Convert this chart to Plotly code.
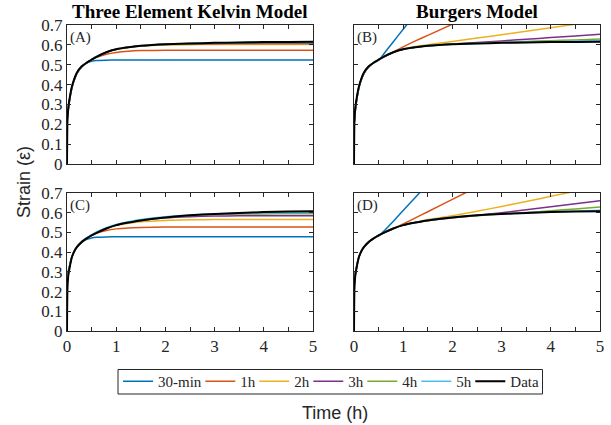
import plotly.graph_objects as go

# ---------------- data ----------------
t = [0, 0.01, 0.03, 0.06, 0.1, 0.15, 0.2, 0.3, 0.4, 0.5, 0.6, 0.8, 1.0, 1.25, 1.5, 2.0, 2.5, 3.0, 3.5, 4.0, 4.5, 5.0]

series_names = ["30-min", "1h", "2h", "3h", "4h", "5h", "Data"]
colors = ["#0072BD", "#D95319", "#EDB120", "#7E2F8E", "#77AC30", "#4DBEEE", "#000000"]

data_top = [0.0, 0.22, 0.29, 0.34, 0.39, 0.43, 0.46, 0.492, 0.51, 0.525, 0.54, 0.563, 0.578, 0.588, 0.595, 0.603, 0.607, 0.61, 0.612, 0.614, 0.615, 0.616]
data_bottom = [0.0, 0.22, 0.29, 0.33, 0.375, 0.405, 0.425, 0.452, 0.47, 0.485, 0.498, 0.52, 0.537, 0.55, 0.561, 0.576, 0.587, 0.594, 0.599, 0.603, 0.606, 0.608]

# (A) Three element Kelvin model, top row
kelvin_A = [
    [0.25, 0.26, 0.29, 0.335, 0.385, 0.425, 0.455, 0.49, 0.508, 0.517, 0.521, 0.523, 0.524, 0.524, 0.524, 0.524, 0.524, 0.524, 0.524, 0.524, 0.524, 0.524],
    [0.24, 0.25, 0.285, 0.335, 0.385, 0.425, 0.455, 0.49, 0.51, 0.525, 0.537, 0.553, 0.562, 0.568, 0.571, 0.573, 0.573, 0.573, 0.573, 0.573, 0.573, 0.573],
    [0.23, 0.245, 0.285, 0.335, 0.385, 0.425, 0.455, 0.49, 0.51, 0.525, 0.54, 0.562, 0.576, 0.587, 0.593, 0.599, 0.601, 0.602, 0.602, 0.602, 0.602, 0.602],
    [0.23, 0.24, 0.285, 0.335, 0.385, 0.425, 0.458, 0.49, 0.51, 0.525, 0.54, 0.563, 0.578, 0.588, 0.595, 0.602, 0.605, 0.606, 0.607, 0.607, 0.607, 0.607],
    [0.22, 0.235, 0.285, 0.335, 0.385, 0.428, 0.458, 0.49, 0.51, 0.525, 0.54, 0.563, 0.578, 0.588, 0.595, 0.603, 0.607, 0.609, 0.61, 0.61, 0.61, 0.61],
    [0.22, 0.235, 0.285, 0.335, 0.385, 0.428, 0.458, 0.49, 0.51, 0.525, 0.54, 0.563, 0.578, 0.588, 0.595, 0.603, 0.607, 0.61, 0.612, 0.613, 0.613, 0.613],
]

# (B) Burgers model, top row
burgers_B = [
    [0.22, 0.24, 0.28, 0.33, 0.385, 0.425, 0.455, 0.49, 0.51, 0.522, 0.553, 0.616, 0.679, 0.757],
    [0.21, 0.23, 0.28, 0.33, 0.385, 0.425, 0.455, 0.49, 0.51, 0.524, 0.538, 0.564, 0.59, 0.62, 0.648, 0.704],
    [0.2, 0.22, 0.28, 0.335, 0.385, 0.428, 0.458, 0.49, 0.51, 0.525, 0.54, 0.563, 0.578, 0.592, 0.601, 0.617, 0.634, 0.651, 0.668, 0.686, 0.704],
    [0.2, 0.22, 0.28, 0.335, 0.385, 0.428, 0.458, 0.49, 0.51, 0.525, 0.54, 0.563, 0.578, 0.588, 0.596, 0.604, 0.612, 0.62, 0.628, 0.637, 0.645, 0.654],
    [0.2, 0.22, 0.285, 0.335, 0.385, 0.428, 0.458, 0.49, 0.51, 0.525, 0.54, 0.563, 0.578, 0.588, 0.595, 0.603, 0.608, 0.613, 0.617, 0.621, 0.625, 0.629],
    [0.2, 0.22, 0.285, 0.335, 0.385, 0.428, 0.458, 0.49, 0.51, 0.525, 0.54, 0.563, 0.578, 0.588, 0.595, 0.603, 0.607, 0.611, 0.614, 0.616, 0.619, 0.622],
]

# (C) Three element Kelvin model, bottom row
kelvin_C = [
    [0.28, 0.29, 0.31, 0.34, 0.375, 0.405, 0.425, 0.45, 0.465, 0.472, 0.475, 0.477, 0.478, 0.478, 0.478, 0.478, 0.478, 0.478, 0.478, 0.478, 0.478, 0.478],
    [0.26, 0.27, 0.3, 0.335, 0.375, 0.405, 0.425, 0.452, 0.47, 0.485, 0.496, 0.51, 0.518, 0.523, 0.525, 0.527, 0.527, 0.527, 0.527, 0.527, 0.527, 0.527],
    [0.25, 0.26, 0.295, 0.335, 0.375, 0.405, 0.426, 0.453, 0.47, 0.485, 0.498, 0.52, 0.535, 0.547, 0.554, 0.561, 0.564, 0.565, 0.565, 0.565, 0.565, 0.565],
    [0.24, 0.255, 0.295, 0.335, 0.375, 0.405, 0.426, 0.453, 0.47, 0.485, 0.498, 0.52, 0.537, 0.55, 0.561, 0.574, 0.58, 0.583, 0.584, 0.585, 0.585, 0.585],
    [0.24, 0.255, 0.295, 0.335, 0.375, 0.405, 0.426, 0.453, 0.47, 0.486, 0.5, 0.522, 0.538, 0.551, 0.562, 0.577, 0.586, 0.591, 0.593, 0.594, 0.595, 0.595],
    [0.23, 0.25, 0.295, 0.335, 0.375, 0.405, 0.427, 0.455, 0.473, 0.488, 0.502, 0.524, 0.54, 0.554, 0.565, 0.58, 0.589, 0.594, 0.597, 0.599, 0.6, 0.6],
]

# (D) Burgers model, bottom row
burgers_D = [
    [0.26, 0.27, 0.3, 0.335, 0.375, 0.405, 0.425, 0.452, 0.47, 0.482, 0.505, 0.557, 0.611, 0.679, 0.746],
    [0.24, 0.26, 0.295, 0.335, 0.375, 0.405, 0.425, 0.452, 0.47, 0.485, 0.498, 0.52, 0.543, 0.574, 0.605, 0.668, 0.73],
    [0.23, 0.25, 0.295, 0.335, 0.375, 0.405, 0.425, 0.452, 0.47, 0.485, 0.498, 0.52, 0.537, 0.551, 0.565, 0.585, 0.607, 0.632, 0.657, 0.683, 0.709],
    [0.22, 0.245, 0.29, 0.333, 0.375, 0.405, 0.425, 0.452, 0.47, 0.485, 0.498, 0.52, 0.537, 0.55, 0.561, 0.574, 0.586, 0.6, 0.615, 0.63, 0.646, 0.661],
    [0.22, 0.24, 0.29, 0.333, 0.375, 0.405, 0.425, 0.452, 0.47, 0.485, 0.498, 0.52, 0.537, 0.55, 0.561, 0.576, 0.585, 0.593, 0.601, 0.61, 0.619, 0.629],
    [0.22, 0.24, 0.29, 0.333, 0.375, 0.405, 0.425, 0.452, 0.47, 0.485, 0.498, 0.52, 0.537, 0.55, 0.562, 0.577, 0.587, 0.594, 0.6, 0.604, 0.608, 0.612],
]

titles = ["Three Element Kelvin Model", "Burgers Model"]
panel_labels = ["(A)", "(B)", "(C)", "(D)"]
x_ticks = [0, 0.5, 1, 1.5, 2, 2.5, 3, 3.5, 4, 4.5, 5]
x_tick_text = ["0", "", "1", "", "2", "", "3", "", "4", "", "5"]
y_ticks = [0, 0.1, 0.2, 0.3, 0.4, 0.5, 0.6, 0.7]
y_tick_text = ["0", "0.1", "0.2", "0.3", "0.4", "0.5", "0.6", "0.7"]

# ---------------- figure ----------------
W, H = 611, 425
SERIF = "Liberation Serif, Times New Roman, serif"
SANS = "Liberation Sans, Arial, sans-serif"
INK = "#262626"

fig = go.Figure()

legend_ids = ["legend", "legend2", "legend3", "legend4", "legend5", "legend6", "legend7"]

panels = [
    (kelvin_A, data_top, "x", "y"),
    (burgers_B, data_top, "x2", "y2"),
    (kelvin_C, data_bottom, "x3", "y3"),
    (burgers_D, data_bottom, "x4", "y4"),
]

for p, (fits, data, xa, ya) in enumerate(panels):
    for i, vals in enumerate(fits):
        fig.add_trace(go.Scatter(
            x=t[:len(vals)], y=vals, mode="lines", name=series_names[i],
            line=dict(color=colors[i], width=1.5, shape="spline", smoothing=0.6),
            xaxis=xa, yaxis=ya, showlegend=(p == 0), legend=legend_ids[i],
        ))
    fig.add_trace(go.Scatter(
        x=t, y=data, mode="lines", name=series_names[6],
        line=dict(color=colors[6], width=2, shape="spline", smoothing=0.6),
        xaxis=xa, yaxis=ya, showlegend=(p == 0), legend=legend_ids[6],
    ))

xdom = [[67 / W, 313 / W], [354 / W, 600 / W]]
ydom = [[1 - 164 / H, 1 - 25 / H], [1 - 331 / H, 1 - 193 / H]]

axis_common = dict(showline=True, linecolor=INK, linewidth=1, mirror="ticks",
                   ticks="inside", ticklen=4, tickwidth=1, tickcolor=INK,
                   showgrid=False, zeroline=False, automargin=False,
                   tickfont=dict(family=SERIF, size=17, color=INK))

layout = dict(width=W, height=H, margin=dict(l=0, r=0, t=0, b=0, autoexpand=False),
              paper_bgcolor="white", plot_bgcolor="white", showlegend=True)

for k in range(4):
    row, col = divmod(k, 2)
    sx = "" if k == 0 else str(k + 1)
    layout["xaxis" + sx] = dict(axis_common, domain=xdom[col], range=[0, 5],
                                anchor="y" + sx, tickvals=x_ticks,
                                ticktext=x_tick_text, showticklabels=(row == 1))
    layout["yaxis" + sx] = dict(axis_common, domain=ydom[row], range=[0, 0.7],
                                anchor="x" + sx, tickvals=y_ticks,
                                ticktext=y_tick_text, showticklabels=(col == 0))

# one legend per entry, laid out in a single row like the reference
legend_left_px = [118, 200.3, 254.3, 308.3, 362.3, 416.3, 470.3]
for i, lid in enumerate(legend_ids):
    layout[lid] = dict(
        orientation="h", xref="container", yref="container",
        x=legend_left_px[i] / W, y=1 - 381.5 / H, xanchor="left", yanchor="middle",
        borderwidth=0, bgcolor="rgba(0,0,0,0)", itemwidth=30,
        font=dict(family=SERIF, size=15, color=INK),
    )

fig.update_layout(**layout)

shapes = [dict(type="rect", xref="paper", yref="paper",
               x0=118 / W, x1=542.5 / W, y0=1 - 394 / H, y1=1 - 369.5 / H,
               line=dict(color=INK, width=1), fillcolor="rgba(0,0,0,0)", layer="below")]

ann = []
for c, title in enumerate(titles):
    ann.append(dict(text="<b>" + title + "</b>", x=(xdom[c][0] + xdom[c][1]) / 2, y=1 - 12 / H,
                    xref="paper", yref="paper", showarrow=False, xanchor="center", yanchor="middle",
                    font=dict(family=SERIF, size=19, color="black")))
for k, lab in enumerate(panel_labels):
    row, col = divmod(k, 2)
    ann.append(dict(text=lab, x=xdom[col][0] + 1 / W, y=ydom[row][1] - 2 / H,
                    xref="paper", yref="paper", showarrow=False, xanchor="left", yanchor="top",
                    font=dict(family=SERIF, size=15, color=INK)))
ann.append(dict(text="Strain (\u03b5)", x=24 / W, y=1 - 182 / H, xref="paper", yref="paper",
                showarrow=False, textangle=-90, xanchor="center", yanchor="middle",
                font=dict(family=SANS, size=18, color=INK)))
ann.append(dict(text="Time (h)", x=334.5 / W, y=1 - 413 / H, xref="paper", yref="paper",
                showarrow=False, xanchor="center", yanchor="middle",
                font=dict(family=SANS, size=18, color=INK)))
fig.update_layout(annotations=ann, shapes=shapes)

# remove the browser's default 8px page margin so the figure sits at the window origin
fig.write_html("out.html", config={"displayModeBar": False},
               post_script="document.body.style.margin='0';document.body.style.overflow='hidden';")
